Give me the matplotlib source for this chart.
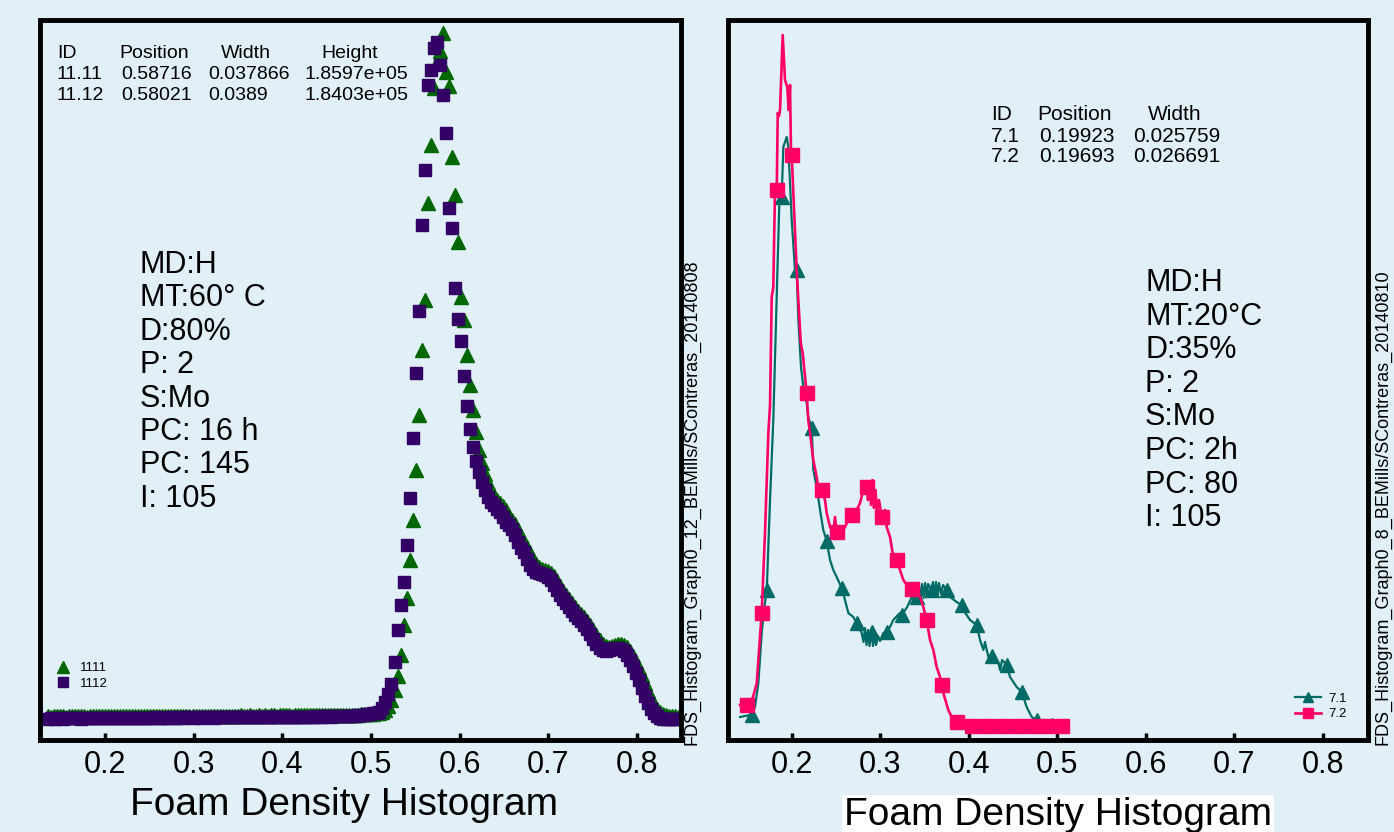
import numpy as np
import matplotlib
matplotlib.use("Agg")
import matplotlib.pyplot as plt
from matplotlib.lines import Line2D

W, H = 1394, 832
BG = '#e1f0f7'
plt.rcParams['font.family'] = ['Liberation Sans', 'DejaVu Sans']

# ---------------- left chart: histogram counts (thousands), bins of 0.0034 from 0.1355
bin_start, bin_width = 0.1355, 0.0034
h1111 = [
    1.0, 0.9, 1.1, 1.0, 1.0, 1.1, 0.9, 1.0, 1.1, 1.0, 1.0, 1.1, 1.0, 0.9, 1.1, 1.0, 1.1, 1.0, 1.0, 1.1,
    1.0, 1.1, 1.1, 1.0, 1.1, 1.0, 1.1, 1.1, 1.0, 1.1, 1.1, 1.0, 1.1, 1.2, 1.1, 1.0, 1.1, 1.1, 1.2, 1.1,
    1.1, 1.2, 1.1, 1.1, 1.2, 1.1, 1.2, 1.1, 1.1, 1.2, 1.2, 1.1, 1.2, 1.1, 1.2, 1.2, 1.1, 1.2, 1.2, 1.2,
    1.2, 1.1, 1.2, 1.2, 1.3, 1.2, 1.2, 1.3, 1.2, 1.2, 1.3, 1.2, 1.3, 1.2, 1.3, 1.3, 1.2, 1.3, 1.3, 1.3,
    1.3, 1.2, 1.3, 1.3, 1.4, 1.3, 1.3, 1.4, 1.3, 1.4, 1.4, 1.3, 1.4, 1.4, 1.4, 1.3, 1.4, 1.4, 1.5, 1.4,
    1.4, 1.5, 1.5, 1.5, 1.6, 1.6, 1.6, 1.7, 1.7, 1.8,
    1.9, 2.2, 2.8, 3.8, 5.4, 8.1, 11.9, 17.6, 25.7, 33.0,
    43.3, 54.1, 67.7, 82.6, 100.2, 113.7, 139.9, 155.6, 171.0, 178.0,
    181.0, 186.0, 175.4, 171.6, 152.4, 142.1, 129.4, 114.5, 108.3, 98.8,
    90.7, 83.9, 78.0, 73.1, 69.6, 66.7, 64.2, 62.3, 60.7, 59.6,
    58.8, 57.9, 56.9, 55.2, 54.1, 53.0, 51.4, 49.8, 48.2, 46.8,
    45.2, 43.6, 42.2, 41.4, 40.9, 40.6, 40.4, 39.8, 39.0, 37.6,
    36.3, 34.9, 33.8, 32.7, 31.6, 30.5, 29.4, 28.6, 27.8, 26.7,
    25.7, 24.3, 23.0, 21.6, 20.5, 20.0, 19.7, 20.0, 20.3, 20.5,
    20.5, 20.3, 19.7, 18.6, 17.3, 15.7, 14.1, 12.2, 10.0, 7.8,
    6.0, 4.3, 3.0, 2.2, 1.6, 1.4, 1.1, 1.1, 1.1, 0.8,
]
h1112 = [
    0.4, 0.5, 0.4, 0.5, 0.5, 0.4, 0.5, 0.5, 0.6, 0.5, 0.5, 0.4, 0.5, 0.5, 0.6, 0.5, 0.5, 0.5, 0.6, 0.5,
    0.5, 0.6, 0.5, 0.5, 0.6, 0.6, 0.5, 0.6, 0.6, 0.5, 0.6, 0.6, 0.6, 0.5, 0.6, 0.6, 0.7, 0.6, 0.6, 0.6,
    0.6, 0.7, 0.6, 0.6, 0.7, 0.6, 0.7, 0.7, 0.6, 0.7, 0.7, 0.6, 0.7, 0.7, 0.7, 0.6, 0.7, 0.7, 0.8, 0.7,
    0.7, 0.7, 0.8, 0.7, 0.7, 0.8, 0.7, 0.8, 0.8, 0.7, 0.8, 0.8, 0.8, 0.7, 0.8, 0.8, 0.9, 0.8, 0.8, 0.8,
    0.8, 0.9, 0.8, 0.9, 0.9, 0.8, 0.9, 0.9, 0.9, 1.0, 0.9, 0.9, 1.0, 1.0, 0.9, 1.0, 1.0, 1.1, 1.0, 1.1,
    1.1, 1.2, 1.2, 1.3, 1.4, 1.5, 1.6, 1.7, 1.9, 2.0,
    2.2, 3.2, 4.9, 7.0, 9.7, 15.7, 24.3, 31.1, 37.3, 47.3,
    60.2, 76.4, 94.0, 110.7, 133.9, 148.8, 172.0, 176.0, 182.0, 183.6,
    177.4, 169.3, 158.8, 138.5, 133.1, 116.9, 108.5, 102.6, 93.2, 85.1,
    78.8, 74.0, 70.2, 67.2, 64.5, 62.4, 60.5, 59.1, 58.1, 57.2,
    56.4, 55.1, 53.5, 52.7, 51.6, 50.0, 48.3, 46.7, 45.4, 43.7,
    42.1, 41.0, 40.2, 39.7, 39.4, 39.2, 38.6, 37.8, 36.5, 35.1,
    33.8, 32.7, 31.6, 30.5, 29.4, 28.4, 27.5, 26.7, 25.7, 24.6,
    23.2, 21.9, 20.5, 19.4, 18.9, 18.6, 18.9, 19.2, 19.4, 19.4,
    19.2, 18.6, 17.5, 16.2, 14.6, 12.7, 10.8, 8.6, 6.5, 4.6,
    3.0, 1.9, 1.1, 0.5, 0.3, 0.3, 0.2, 0.3, 0.2, 0.2,
]
left_x = bin_start + bin_width * np.arange(len(h1112))

left_table = [['ID', 'Position', 'Width', 'Height'],
              ['11.11', '0.58716', '0.037866', '1.8597e+05'],
              ['11.12', '0.58021', '0.0389', '1.8403e+05']]
left_notes = ['MD:H', 'MT:60° C', 'D:80%', 'P: 2', 'S:Mo', 'PC: 16 h', 'PC: 145', 'I: 105']

# ---------------- right chart: histogram traces
x71 = [0.1416, 0.1472, 0.1529, 0.1548, 0.1585, 0.1623, 0.1661, 0.1687, 0.1718, 0.1755,
       0.1792, 0.1823, 0.1860, 0.1887, 0.1905, 0.1944, 0.1962, 0.2000, 0.2037, 0.2056,
       0.2075, 0.2105, 0.2131, 0.2169, 0.2187, 0.2226, 0.2244, 0.2282, 0.2320, 0.2357,
       0.2395, 0.2433, 0.2470, 0.2508, 0.2565, 0.2602, 0.2640, 0.2696, 0.2734, 0.2791,
       0.2811, 0.2828, 0.2845, 0.2862, 0.2879, 0.2904, 0.2919, 0.2936, 0.2953, 0.2975,
       0.2998, 0.3035, 0.3073, 0.3111, 0.3148, 0.3179, 0.3224, 0.3243, 0.3305, 0.3356,
       0.3382, 0.3412, 0.3439, 0.3456, 0.3473, 0.3490, 0.3508, 0.3524, 0.3541, 0.3582,
       0.3597, 0.3614, 0.3631, 0.3648, 0.3665, 0.3687, 0.3710, 0.3751, 0.3789, 0.3864,
       0.3921, 0.3939, 0.4015, 0.4090, 0.4128, 0.4166, 0.4184, 0.4222, 0.4260, 0.4279,
       0.4335, 0.4355, 0.4377, 0.4429, 0.4467, 0.4542, 0.4599, 0.4655, 0.4712, 0.4768,
       0.4881, 0.4938, 0.5066]
y71 = [9, 10, 11, 11, 19, 43, 93, 116, 136, 226,
       306, 406, 523, 529, 579, 589, 579, 506, 456, 456,
       406, 359, 339, 323, 309, 298, 256, 239, 216, 196,
       185, 166, 156, 149, 138, 126, 113, 109, 103, 93,
       84, 98, 81, 96, 80, 94, 80, 91, 81, 90,
       85, 93, 94, 99, 106, 109, 113, 111, 119, 129,
       126, 129, 140, 126, 142, 128, 143, 129, 142, 136,
       144, 129, 144, 130, 143, 132, 141, 136, 129, 124,
       121, 116, 106, 101, 86, 76, 84, 69, 70, 66,
       63, 56, 66, 61, 49, 39, 34, 19, 9, 6,
       3, 1, 1]
marks71 = [0.1548, 0.1718, 0.1887, 0.2056, 0.2226, 0.2395, 0.2565, 0.2734, 0.2904, 0.3073,
           0.3243, 0.3412, 0.3582, 0.3751, 0.3921, 0.4090, 0.4260, 0.4429, 0.4599, 0.4768,
           0.4938]

x72 = [0.1416, 0.1492, 0.1529, 0.1563, 0.1605, 0.1631, 0.1661, 0.1698, 0.1736, 0.1755,
       0.1774, 0.1792, 0.1811, 0.1831, 0.1842, 0.1857, 0.1868, 0.1898, 0.1924, 0.1950,
       0.1966, 0.1981, 0.1992, 0.2000, 0.2056, 0.2102, 0.2124, 0.2169, 0.2187, 0.2207,
       0.2244, 0.2282, 0.2301, 0.2339, 0.2376, 0.2395, 0.2433, 0.2470, 0.2489, 0.2508,
       0.2583, 0.2659, 0.2678, 0.2734, 0.2772, 0.2809, 0.2847, 0.2862, 0.2879, 0.2896,
       0.2913, 0.2930, 0.2947, 0.2964, 0.2986, 0.3017, 0.3054, 0.3073, 0.3111, 0.3148,
       0.3186, 0.3224, 0.3261, 0.3318, 0.3356, 0.3412, 0.3450, 0.3487, 0.3525, 0.3563,
       0.3600, 0.3638, 0.3676, 0.3695, 0.3714, 0.3769, 0.3826, 0.3864, 0.3902, 0.4015,
       0.4034, 0.4203, 0.4373, 0.4542, 0.4712, 0.4881, 0.5051, 0.5065]
y72 = [21, 21, 23, 29, 43, 76, 113, 193, 293, 321,
       429, 439, 536, 536, 613, 610, 616, 691, 646, 639,
       616, 641, 573, 571, 456, 383, 373, 333, 306, 293,
       266, 249, 238, 236, 226, 213, 199, 194, 209, 194,
       196, 209, 211, 216, 223, 236, 239, 226, 244, 221,
       246, 218, 236, 214, 226, 209, 216, 199, 189, 169,
       166, 156, 146, 139, 137, 136, 129, 119, 106, 86,
       76, 59, 49, 41, 33, 16, 6, 4, 3, 1,
       0, 0, 0, 0, 0, 0, 0, 0]
marks72 = [0.1492, 0.1661, 0.1831, 0.2000, 0.2169, 0.2339, 0.2508, 0.2678, 0.2847, 0.3017,
           0.3186, 0.3356, 0.3525, 0.3695, 0.3864, 0.4034, 0.4203, 0.4373, 0.4542, 0.4712,
           0.4881, 0.5051]

right_table = [['ID', 'Position', 'Width'],
               ['7.1', '0.19923', '0.025759'],
               ['7.2', '0.19693', '0.026691']]
right_notes = ['MD:H', 'MT:20°C', 'D:35%', 'P: 2', 'S:Mo', 'PC: 2h', 'PC: 80', 'I: 105']

xticks = [0.2, 0.3, 0.4, 0.5, 0.6, 0.7, 0.8]

GREEN = '#006600'
PURPLE = '#330066'
TEAL = '#006b66'
PINK = '#ff0066'


def fx(px):
    return px / W


def fy(py):
    return 1 - py / H


fig = plt.figure(figsize=(W / 100, H / 100), dpi=100, facecolor=BG)
ax1 = fig.add_axes([fx(40), fy(740), (681 - 40) / W, (740 - 20) / H])
ax2 = fig.add_axes([fx(728), fy(740), (1368 - 728) / W, (740 - 20) / H])

for ax in (ax1, ax2):
    ax.set_facecolor(BG)
    for sp in ax.spines.values():
        sp.set_linewidth(3.5)
        sp.set_color('black')
    ax.set_xticks(xticks)
    ax.set_xticklabels(['%.1f' % t for t in xticks])
    ax.set_yticks([])
    ax.tick_params(axis='x', direction='in', length=5, width=2.5, labelsize=22, pad=7)

# left: scatter of bins
ax1.plot(left_x, h1111, ls='none', marker='^', ms=10.5, color=GREEN, mec=GREEN)
ax1.plot(left_x, h1112, ls='none', marker='s', ms=9.2, color=PURPLE, mec=PURPLE)
ax1.set_xlim(0.1267, 0.8496)
ax1.set_ylim(-5.4, 189.5)

leg1 = [Line2D([], [], ls='none', marker='^', ms=8, color=GREEN, label='1111'),
        Line2D([], [], ls='none', marker='s', ms=7, color=PURPLE, label='1112')]
ax1.legend(handles=leg1, loc='upper left', bbox_to_anchor=(0.025, 0.108), frameon=False,
           fontsize=9.5, handlelength=1.0, handletextpad=0.8, labelspacing=0.25,
           borderpad=0, borderaxespad=0)

# right: lines with markers
idx71 = [int(np.argmin(np.abs(np.array(x71) - m))) for m in marks71]
idx72 = [int(np.argmin(np.abs(np.array(x72) - m))) for m in marks72]
ax2.plot(x71, y71, color=TEAL, lw=1.6, marker='^', ms=10, markevery=idx71)
ax2.plot(x72, y72, color=PINK, lw=1.9, marker='s', ms=9.5, markevery=idx72)
ax2.set_xlim(0.1280, 0.8512)
ax2.set_ylim(-14, 706)

leg2 = [Line2D([], [], color=TEAL, lw=1.6, marker='^', ms=7, label='7.1'),
        Line2D([], [], color=PINK, lw=1.9, marker='s', ms=6.5, label='7.2')]
ax2.legend(handles=leg2, loc='upper left', bbox_to_anchor=(0.886, 0.066), frameon=False,
           fontsize=9.5, handlelength=2.0, handletextpad=0.5, labelspacing=0.25,
           borderpad=0, borderaxespad=0)

# tables of fitted peaks
left_cols = [[57, 119, 221, 321], [57, 121, 208, 305], [57, 121, 208, 305]]
for r, (row, cols) in enumerate(zip(left_table, left_cols)):
    for s, c in zip(row, cols):
        fig.text(fx(c), fy(53 + r * 21.5), s, fontsize=14, ha='left', va='center')

right_cols = [[991, 1037, 1148], [991, 1039, 1133], [991, 1039, 1133]]
for r, (row, cols) in enumerate(zip(right_table, right_cols)):
    for s, c in zip(row, cols):
        fig.text(fx(c), fy(115 + r * 21), s, fontsize=15, ha='left', va='center')

# sample notes
for k, s in enumerate(left_notes):
    fig.text(fx(140), fy(265 + k * 33.4), s, fontsize=22, ha='left', va='center')
for k, s in enumerate(right_notes):
    fig.text(fx(1145), fy(283 + k * 33.6), s, fontsize=22, ha='left', va='center')

# file tags
fig.text(fx(692), fy(745), 'FDS_Histogram_Graph0_12_BEMills/SContreras_20140808',
         rotation=90, fontsize=13, ha='center', va='bottom')
fig.text(fx(1383), fy(745), 'FDS_Histogram_Graph0_8_BEMills/SContreras_20140810',
         rotation=90, fontsize=13, ha='center', va='bottom')

# x labels
fig.text(fx(344.5), fy(805), 'Foam Density Histogram', fontsize=28, ha='center', va='center')
fig.text(fx(1058), fy(815), 'Foam Density Histogram', fontsize=28, ha='center', va='center',
         bbox=dict(boxstyle='square,pad=0.05', facecolor='white', edgecolor='none'))

fig.savefig('out.png', dpi=100, facecolor=BG)
